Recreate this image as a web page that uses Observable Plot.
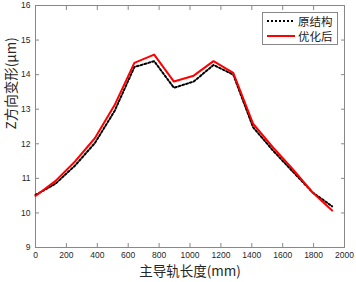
<!DOCTYPE html>
<html><head><meta charset="utf-8">
<script src="https://cdn.jsdelivr.net/npm/d3@7"></script>
<script src="https://cdn.jsdelivr.net/npm/@observablehq/plot@0.6"></script>
<style>
body{margin:0;background:#fff;}
#wrap{position:relative;width:356px;height:282px;}
#legend{position:absolute;left:262px;top:12px;width:74px;height:31px;border:1px solid #888;background:#fff;font-family:"Noto Sans CJK SC",sans-serif;font-size:11.5px;color:#222;}
#legend .row{position:absolute;left:0;height:14px;line-height:14px;}
#legend svg{position:absolute;left:4px;top:0;}
#legend span{position:absolute;left:35px;top:0;white-space:nowrap;line-height:14px;}
</style>
</head><body>
<div id="wrap"></div>
<script>
const positions = [0,128,256,384,512,640,768,896,1024,1152,1280,1408,1536,1664,1792,1920];
const original  = [10.52,10.84,11.37,12.02,12.95,14.22,14.39,13.62,13.80,14.28,14.00,12.48,11.81,11.20,10.60,10.19];
const optimized = [10.49,10.92,11.49,12.16,13.12,14.34,14.58,13.80,13.97,14.39,14.05,12.58,11.90,11.27,10.60,10.07];
const xTicks = [0,200,400,600,800,1000,1200,1400,1600,1800,2000];
const yTicks = [9,10,11,12,13,14,15,16];
const seriesNames = ["原结构","优化后"];
const xLabel = "主导轨长度(mm)";
const yLabel = "Z方向变形(μm)";

const origData = positions.map((x,i)=>({x, y: original[i]}));
const optData = positions.map((x,i)=>({x, y: optimized[i]}));
const axisColor = "#888";
const numFont = "Liberation Sans, Arial, sans-serif";
const cjkFont = "Noto Sans CJK SC, sans-serif";

const chart = Plot.plot({
  width: 356, height: 282,
  marginLeft: 35, marginRight: 12, marginTop: 5, marginBottom: 35,
  style: {fontFamily: numFont, fontSize: "8.5px", color: "#262626", background: "#fff"},
  x: {domain: [0,2000]},
  y: {domain: [9,16]},
  marks: [
    Plot.frame({stroke: axisColor}),
    Plot.axisX(xTicks, {anchor: "bottom", tickSize: 0, tickPadding: 4, tickFormat: d => String(d), label: null}),
    Plot.axisY(yTicks, {anchor: "left", tickSize: 0, tickPadding: 5, tickFormat: d => String(d), label: null}),
    Plot.axisX(xTicks, {anchor: "bottom", tickSize: 4, dy: -4, text: null, label: null, stroke: axisColor}),
    Plot.axisX(xTicks, {anchor: "top", tickSize: 4, dy: 4, text: null, label: null, stroke: axisColor}),
    Plot.axisY(yTicks, {anchor: "left", tickSize: 4, dx: 4, text: null, label: null, stroke: axisColor}),
    Plot.axisY(yTicks, {anchor: "right", tickSize: 4, dx: -4, text: null, label: null, stroke: axisColor}),
    Plot.line(origData, {x: "x", y: "y", stroke: "#000", strokeWidth: 2, strokeDasharray: "2,2"}),
    Plot.line(optData, {x: "x", y: "y", stroke: "#f00", strokeWidth: 2}),
    Plot.text([xLabel], {frameAnchor: "bottom", dy: 28, fontSize: 13.5, fontFamily: cjkFont, fill: "#262626"}),
    Plot.text([yLabel], {frameAnchor: "left", dx: -24, dy: 3, rotate: -90, fontSize: 13.5, fontFamily: cjkFont, fill: "#262626"})
  ]
});
const wrap = document.getElementById("wrap");
wrap.appendChild(chart);

const legend = document.createElement("div");
legend.id = "legend";
const styles = [{stroke:"#000", dash:"2,2"},{stroke:"#f00", dash:null}];
seriesNames.forEach((name,i)=>{
  const row = document.createElement("div");
  row.className = "row";
  row.style.top = (1 + i*15) + "px";
  row.style.width = "74px";
  row.innerHTML = `<svg width="30" height="14"><line x1="0" x2="28" y1="7" y2="7" stroke="${styles[i].stroke}" stroke-width="2" ${styles[i].dash?`stroke-dasharray="${styles[i].dash}"`:""}/></svg><span>${name}</span>`;
  legend.appendChild(row);
});
wrap.appendChild(legend);
</script>
</body></html>
